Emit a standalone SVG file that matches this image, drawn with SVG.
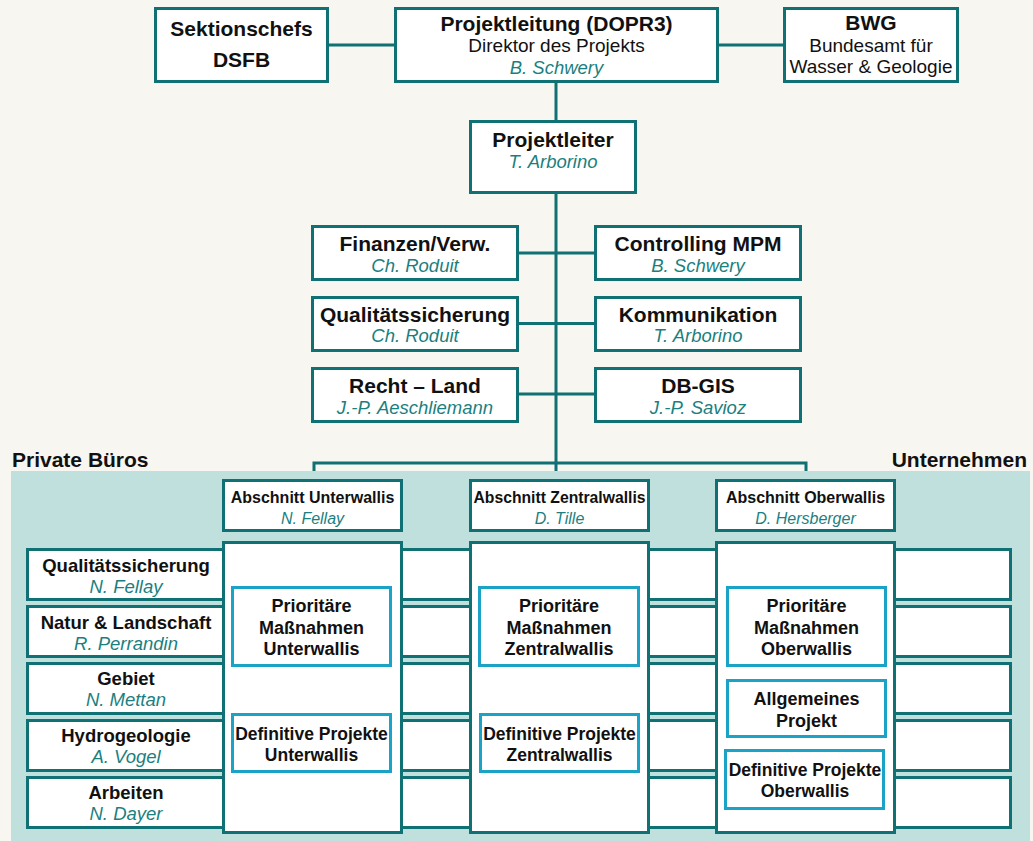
<svg xmlns="http://www.w3.org/2000/svg" width="1033" height="841" viewBox="0 0 1033 841">
  <style>
    .box { fill: #ffffff; stroke: #0f7173; stroke-width: 3; }
    .inner { fill: #ffffff; stroke: #1aa3c6; stroke-width: 3; }
    .line { fill: none; stroke: #0f7173; stroke-width: 3; }
    text { font-family: "Liberation Sans", Arial, sans-serif; text-anchor: middle; }
    .b { font-weight: bold; font-size: 21px; fill: #111111; }
    .r { font-size: 19px; fill: #111111; }
    .i { font-style: italic; font-size: 18.5px; fill: #1b7f80; }
    .hb { font-weight: bold; font-size: 16px; fill: #111111; }
    .hi { font-style: italic; font-size: 16px; fill: #1b7f80; }
    .lb { font-weight: bold; font-size: 18.5px; fill: #111111; }
    .li { font-style: italic; font-size: 18.5px; fill: #1b7f80; }
    .pb { font-weight: bold; font-size: 18px; fill: #111111; }
    .db { font-weight: bold; font-size: 17.5px; fill: #111111; }
  </style>

  <!-- page background -->
  <rect x="0" y="0" width="1033" height="841" fill="#f7f6f1"/>

  <!-- connectors -->
  <g id="connectors">
    <line class="line" x1="328" y1="45" x2="395" y2="45"/>
    <line class="line" x1="718" y1="45" x2="784" y2="45"/>
    <line class="line" x1="556" y1="82" x2="556" y2="121"/>
    <line class="line" x1="556" y1="193" x2="556" y2="471"/>
    <line class="line" x1="518" y1="253" x2="595" y2="253"/>
    <line class="line" x1="518" y1="323.5" x2="595" y2="323.5"/>
    <line class="line" x1="518" y1="394" x2="595" y2="394"/>
    <polyline class="line" points="314,471 314,463 806,463 806,471"/>
  </g>

  <!-- management level -->
  <g id="sektionschefs">
    <rect class="box" x="155.5" y="8.5" width="172" height="73"/>
    <text class="b" x="241.5" y="36">Sektionschefs</text>
    <text class="b" x="241.5" y="67">DSFB</text>
  </g>
  <g id="projektleitung">
    <rect class="box" x="395.5" y="8.5" width="322" height="73"/>
    <text class="b" x="556.5" y="31">Projektleitung (DOPR3)</text>
    <text class="r" x="556.5" y="52">Direktor des Projekts</text>
    <text class="i" x="556.5" y="74">B. Schwery</text>
  </g>
  <g id="bwg">
    <rect class="box" x="784.5" y="8.5" width="173" height="73"/>
    <text class="b" x="871" y="30">BWG</text>
    <text class="r" x="871" y="52">Bundesamt für</text>
    <text class="r" x="871" y="73">Wasser &amp; Geologie</text>
  </g>
  <g id="projektleiter">
    <rect class="box" x="470.5" y="121.5" width="165" height="71"/>
    <text class="b" x="553" y="147">Projektleiter</text>
    <text class="i" x="553" y="168">T. Arborino</text>
  </g>

  <!-- staff functions -->
  <g id="finanzen">
    <rect class="box" x="312.5" y="226.5" width="205" height="53"/>
    <text class="b" x="415" y="251">Finanzen/Verw.</text>
    <text class="i" x="415" y="272">Ch. Roduit</text>
  </g>
  <g id="controlling">
    <rect class="box" x="595.5" y="226.5" width="205" height="53"/>
    <text class="b" x="698" y="251">Controlling MPM</text>
    <text class="i" x="698" y="272">B. Schwery</text>
  </g>
  <g id="qualitaet-staff">
    <rect class="box" x="312.5" y="297.5" width="205" height="53"/>
    <text class="b" x="415" y="321.5">Qualitätssicherung</text>
    <text class="i" x="415" y="342">Ch. Roduit</text>
  </g>
  <g id="kommunikation">
    <rect class="box" x="595.5" y="297.5" width="205" height="53"/>
    <text class="b" x="698" y="321.5">Kommunikation</text>
    <text class="i" x="698" y="342">T. Arborino</text>
  </g>
  <g id="recht">
    <rect class="box" x="312.5" y="368.5" width="205" height="53"/>
    <text class="b" x="415" y="393">Recht – Land</text>
    <text class="i" x="415" y="413.5">J.-P. Aeschliemann</text>
  </g>
  <g id="dbgis">
    <rect class="box" x="595.5" y="368.5" width="205" height="53"/>
    <text class="b" x="698" y="393">DB-GIS</text>
    <text class="i" x="698" y="413.5">J.-P. Savioz</text>
  </g>

  <!-- section labels -->
  <text class="b" x="12" y="467" style="text-anchor:start">Private Büros</text>
  <text class="b" x="1027" y="467" style="text-anchor:end">Unternehmen</text>

  <!-- execution panel -->
  <rect x="11" y="471" width="1019" height="370" fill="#bfe0dd"/>

  <!-- discipline rows -->
  <g id="row-qualitaet">
    <rect class="box" x="27.5" y="549.5" width="983" height="50"/>
    <text class="lb" x="126" y="572">Qualitätssicherung</text>
    <text class="li" x="126" y="593">N. Fellay</text>
  </g>
  <g id="row-natur">
    <rect class="box" x="27.5" y="606.5" width="983" height="50"/>
    <text class="lb" x="126" y="628.5">Natur &amp; Landschaft</text>
    <text class="li" x="126" y="649.5">R. Perrandin</text>
  </g>
  <g id="row-gebiet">
    <rect class="box" x="27.5" y="663.5" width="983" height="50"/>
    <text class="lb" x="126" y="685">Gebiet</text>
    <text class="li" x="126" y="705.5">N. Mettan</text>
  </g>
  <g id="row-hydro">
    <rect class="box" x="27.5" y="720.5" width="983" height="50"/>
    <text class="lb" x="126" y="742">Hydrogeologie</text>
    <text class="li" x="126" y="763">A. Vogel</text>
  </g>
  <g id="row-arbeiten">
    <rect class="box" x="27.5" y="777.5" width="983" height="50"/>
    <text class="lb" x="126" y="798.5">Arbeiten</text>
    <text class="li" x="126" y="819.5">N. Dayer</text>
  </g>

  <!-- section Unterwallis -->
  <g id="abschnitt-unterwallis">
    <rect class="box" x="223.5" y="480.5" width="178" height="50"/>
    <text class="hb" x="312.5" y="503">Abschnitt Unterwallis</text>
    <text class="hi" x="312.5" y="524">N. Fellay</text>
  </g>
  <g id="column-unterwallis">
    <rect class="box" x="223.5" y="542.5" width="178" height="290"/>
  </g>
  <g id="prio-unterwallis">
    <rect class="inner" x="232.5" y="587.5" width="158" height="78"/>
    <text class="pb" x="311.5" y="612">Prioritäre</text>
    <text class="pb" x="311.5" y="633.5">Maßnahmen</text>
    <text class="pb" x="311.5" y="654.5">Unterwallis</text>
  </g>
  <g id="def-unterwallis">
    <rect class="inner" x="232.5" y="714.5" width="158" height="57"/>
    <text class="db" x="311.5" y="740">Definitive Projekte</text>
    <text class="db" x="311.5" y="760.5">Unterwallis</text>
  </g>

  <!-- section Zentralwallis -->
  <g id="abschnitt-zentralwallis">
    <rect class="box" x="470.5" y="480.5" width="178" height="50"/>
    <text class="hb" x="559.5" y="503" textLength="172" lengthAdjust="spacingAndGlyphs">Abschnitt Zentralwallis</text>
    <text class="hi" x="559.5" y="524">D. Tille</text>
  </g>
  <g id="column-zentralwallis">
    <rect class="box" x="470.5" y="542.5" width="178" height="290"/>
  </g>
  <g id="prio-zentralwallis">
    <rect class="inner" x="479.5" y="587.5" width="159" height="78"/>
    <text class="pb" x="559" y="612">Prioritäre</text>
    <text class="pb" x="559" y="633.5">Maßnahmen</text>
    <text class="pb" x="559" y="654.5">Zentralwallis</text>
  </g>
  <g id="def-zentralwallis">
    <rect class="inner" x="480.5" y="714.5" width="158" height="57"/>
    <text class="db" x="559.5" y="740">Definitive Projekte</text>
    <text class="db" x="559.5" y="760.5">Zentralwallis</text>
  </g>

  <!-- section Oberwallis -->
  <g id="abschnitt-oberwallis">
    <rect class="box" x="716.5" y="480.5" width="178" height="50"/>
    <text class="hb" x="805.5" y="503">Abschnitt Oberwallis</text>
    <text class="hi" x="805.5" y="524">D. Hersberger</text>
  </g>
  <g id="column-oberwallis">
    <rect class="box" x="716.5" y="542.5" width="178" height="290"/>
  </g>
  <g id="prio-oberwallis">
    <rect class="inner" x="727.5" y="587.5" width="158" height="78"/>
    <text class="pb" x="806.5" y="612">Prioritäre</text>
    <text class="pb" x="806.5" y="633.5">Maßnahmen</text>
    <text class="pb" x="806.5" y="654.5">Oberwallis</text>
  </g>
  <g id="allgemeines-projekt">
    <rect class="inner" x="727.5" y="680.5" width="158" height="56"/>
    <text class="pb" x="806.5" y="705">Allgemeines</text>
    <text class="pb" x="806.5" y="727">Projekt</text>
  </g>
  <g id="def-oberwallis">
    <rect class="inner" x="725.5" y="750.5" width="158" height="58"/>
    <text class="db" x="805" y="775.5">Definitive Projekte</text>
    <text class="db" x="805" y="797">Oberwallis</text>
  </g>
</svg>
